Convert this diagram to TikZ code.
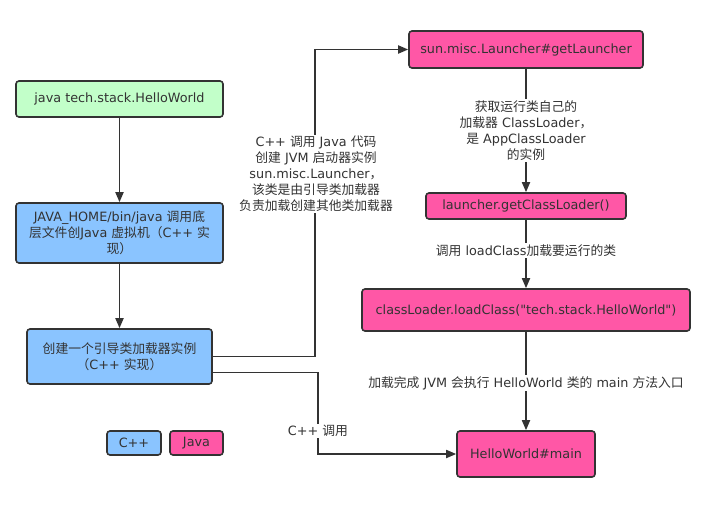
\documentclass[tikz,border=0pt]{standalone}
\usepackage{fontspec}
\setmainfont{DejaVu Sans}[Ligatures=TeXOff]
\newfontfamily\cjkfont{Noto Sans CJK SC}
\usetikzlibrary{calc,arrows.meta}
\newcommand\zh[1]{{\cjkfont #1}}
\newcommand\fs{\fontsize{12.8}{16}\selectfont}
\newcommand\dq{\char34\relax}
\definecolor{ink}{HTML}{333333}
\definecolor{gfill}{HTML}{C2FFC9}
\definecolor{bfill}{HTML}{8AC4FF}
\definecolor{pfill}{HTML}{FF57A6}
\begin{document}
\begin{tikzpicture}[x=1pt,y=-1pt,
  box/.style={draw=ink, line width=1.6pt, rounded corners=3pt, text=ink, align=center, inner sep=0pt, font=\fs},
  gbox/.style={box, fill=gfill},
  bbox/.style={box, fill=bfill},
  pbox/.style={box, fill=pfill},
  conn/.style={draw=ink, line width=1.7pt, -{Triangle[length=10pt,width=8pt]}},
  lbl/.style={fill=white, text=ink, align=center, inner sep=1.5pt, font=\fs}]
\fill[white] (0,0) rectangle (712,505);
\useasboundingbox (0,0) rectangle (712,505);

\node[gbox, minimum width=207pt, minimum height=36pt] (start) at (119.5,99) {java tech.stack.HelloWorld};
\node[bbox, minimum width=207pt, minimum height=60pt] (jvm) at (119.5,233) {JAVA\_HOME/bin/java \zh{调用底}\\\zh{层文件创}Java \zh{虚拟机（}C++ \zh{实}\\\zh{现）}};
\node[bbox, minimum width=185pt, minimum height=55pt] (boot) at (119.5,356.5) {\zh{创建一个引导类加载器实例}\\\zh{（}C++ \zh{实现）}};
\node[bbox, minimum width=54pt, minimum height=24pt] (legc) at (134,443) {C++};
\node[pbox, minimum width=53pt, minimum height=24pt] (legj) at (196.5,443) {Java};

\node[pbox, minimum width=234pt, minimum height=37pt] (launch) at (526,49.5) {sun.misc.Launcher\#getLauncher};
\node[pbox, minimum width=200pt, minimum height=26pt] (gcl) at (526,206) {launcher.getClassLoader()};
\node[pbox, minimum width=328pt, minimum height=42pt] (load) at (526,310) {classLoader.loadClass(\dq tech.stack.HelloWorld\dq)};
\node[pbox, minimum width=138pt, minimum height=46pt] (main) at (526,454) {HelloWorld\#main};

\draw[conn] (start) -- (jvm);
\draw[conn] (jvm) -- (boot);

\draw[conn] (boot.east) -| (315,200) |- (launch.west);
\node[lbl] (l1) at (316,174) {C++ \zh{调用} Java \zh{代码}\\\zh{创建} JVM \zh{启动器实例}\\sun.misc.Launcher\zh{，}\\\zh{该类是由引导类加载器}\\\zh{负责加载创建其他类加载器}};

\draw[conn] ($(boot.east)+(0,16)$) -| (318,420) |- (main.west);
\node[lbl] (l2) at (318,431) {C++ \zh{调用}};

\draw[conn] (launch) -- node[lbl] {\zh{获取运行类自己的}\\\zh{加载器} ClassLoader\zh{，}\\\zh{是} AppClassLoader\\\zh{的实例}} (gcl);
\draw[conn] (gcl) -- node[lbl, pos=0.45] {\zh{调用} loadClass\zh{加载要运行的类}} (load);
\draw[conn] (load) -- node[lbl, pos=0.52] {\zh{加载完成} JVM \zh{会执行} HelloWorld \zh{类的} main \zh{方法入口}} (main);
\end{tikzpicture}
\end{document}
